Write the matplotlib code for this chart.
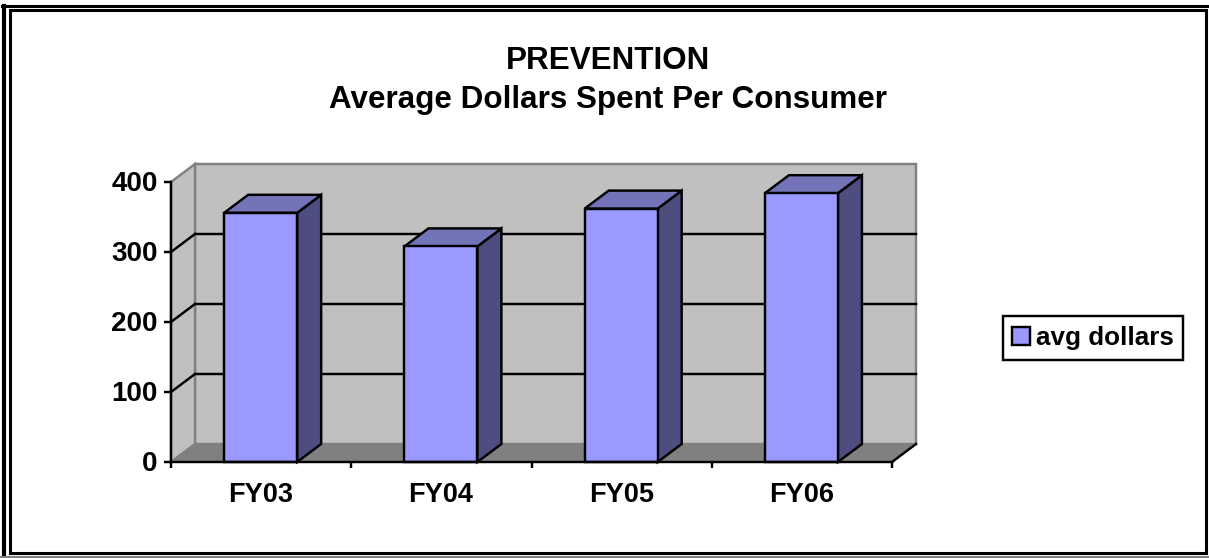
"""
Grafico de barras con falso 3D: PREVENTION, promedio de dolares por consumidor.
"""
import matplotlib
matplotlib.use("Agg")
import matplotlib.pyplot as plt
from matplotlib.patches import Polygon, Rectangle
from matplotlib.transforms import ScaledTranslation

W, H = 1209, 558

categories = ["FY03", "FY04", "FY05", "FY06"]
avg_dollars = [356, 308, 362, 384]
y_ticks = [0, 100, 200, 300, 400]
title = "PREVENTION\nAverage Dollars Spent Per Consumer"
series_name = "avg dollars"

FRONT = "#9999FF"
SIDE = "#4D4D80"
TOP = "#7373B8"
WALL = "#C0C0C0"
FLOOR = "#808080"
LW = 1.75

plt.rcParams["font.family"] = ["Liberation Sans", "DejaVu Sans"]
plt.rcParams["font.weight"] = "bold"

fig = plt.figure(figsize=(W / 100, H / 100), dpi=100)

# Marco doble alrededor del grafico (en pixeles)
bg = fig.add_axes([0, 0, 1, 1], zorder=0)
bg.set_xlim(0, W)
bg.set_ylim(H, 0)
bg.axis("off")
bg.plot([4, 4], [H, 6], color="black", lw=3)
bg.plot([2, W], [6, 6], color="black", lw=2.2)
bg.add_patch(Rectangle((10, 10), 1196, 543, fill=False, ec="black", lw=2.2))
bg.plot([0, W], [557, 557], color="#808080", lw=1.5)

# Los ejes coinciden con el plano frontal
x0, x1, y_top, y_bot = 171, 892, 182, 462
ax = fig.add_axes([x0 / W, 1 - y_bot / H, (x1 - x0) / W, (y_bot - y_top) / H], zorder=1)
ax.set_xlim(0, len(categories))
ax.set_ylim(0, 400)
ax.patch.set_visible(False)

# Profundidad en unidades de datos
DX = 24 / (x1 - x0) * len(categories)
DY = 18 / (y_bot - y_top) * 400
n = len(categories)


def poly(pts, fc, ec="black", lw=LW, z=1):
    ax.add_patch(Polygon(pts, closed=True, fc=fc, ec=ec, lw=lw, zorder=z,
                         clip_on=False, joinstyle="miter"))


# Pared de fondo, pared izquierda y suelo
poly([(DX, DY), (n + DX, DY), (n + DX, 400 + DY), (DX, 400 + DY)], WALL, FLOOR, LW, 1)
poly([(0, 0), (DX, DY), (DX, 400 + DY), (0, 400)], WALL, FLOOR, LW, 1)
poly([(0, 0), (n, 0), (n + DX, DY), (DX, DY)], FLOOR, FLOOR, 1.2, 1)

# Rejilla sobre las paredes
for v in y_ticks[1:-1]:
    ax.plot([DX, n + DX], [v + DY, v + DY], color="black", lw=LW, zorder=2, clip_on=False)
    ax.plot([0, DX], [v, v + DY], color="black", lw=LW, zorder=2, clip_on=False)
ax.plot([n, n + DX], [0, DY], color="black", lw=LW, zorder=2, clip_on=False)

# Barras: cara frontal, lateral y superior
WIDTH = 0.405
xs = [i + 0.4975 for i in range(n)]
bars = ax.bar(xs, avg_dollars, WIDTH, color=FRONT, edgecolor="black", linewidth=LW,
              zorder=5, label=series_name, clip_on=False)
for x, v in zip(xs, avg_dollars):
    left, right = x - WIDTH / 2, x + WIDTH / 2
    poly([(right, 0), (right + DX, DY), (right + DX, v + DY), (right, v)], SIDE, z=4)
    poly([(left, v), (right, v), (right + DX, v + DY), (left + DX, v + DY)], TOP, z=4)

# Ejes
for side in ("top", "right"):
    ax.spines[side].set_visible(False)
for side in ("left", "bottom"):
    ax.spines[side].set_linewidth(LW)
    ax.spines[side].set_zorder(6)
ax.set_yticks(y_ticks)
ax.tick_params(axis="y", length=5, width=LW, labelsize=20, pad=4.5)
up_1px = ScaledTranslation(0, 1 / 100, fig.dpi_scale_trans)
for lbl in ax.get_yticklabels():
    lbl.set_transform(lbl.get_transform() + up_1px)
ax.set_xticks(range(n + 1))
ax.set_xticklabels([])
ax.tick_params(axis="x", length=4.5, width=LW)
ax.set_xticks(xs, minor=True)
ax.set_xticklabels(categories, minor=True, fontsize=19.5)
ax.tick_params(axis="x", which="minor", length=0, pad=14.5)

fig.text(608 / W, 1 - 80.5 / H, title, ha="center", va="center", fontsize=22.6,
         fontweight="bold", linespacing=1.38)

leg = ax.legend(handles=[bars], loc="center", bbox_to_anchor=(1093 / W, 1 - 338 / H),
                bbox_transform=fig.transFigure, fontsize=18.7, fancybox=False,
                framealpha=1, edgecolor="black", handlelength=0.68, handleheight=0.68,
                handletextpad=0.22, borderpad=0.38, borderaxespad=0)
leg.get_frame().set_linewidth(LW)
leg.set_zorder(10)

fig.savefig("out.png", dpi=100)
